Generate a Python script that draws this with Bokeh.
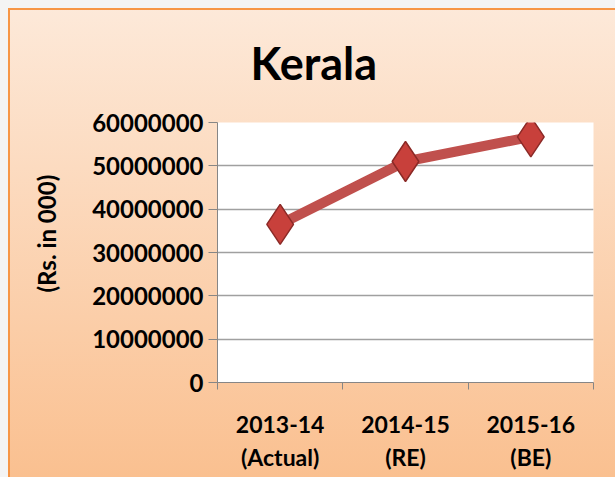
from bokeh.plotting import figure
from bokeh.models import FixedTicker, Range1d, Title
from bokeh.embed import file_html
from bokeh.resources import INLINE

chart_title = "Kerala"
y_label = "(Rs. in 000)"
categories = ["2013-14\n(Actual)", "2014-15\n(RE)", "2015-16\n(BE)"]
values = [36500000, 51000000, 56700000]
y_ticks = [0, 10000000, 20000000, 30000000, 40000000, 50000000, 60000000]

xs = [i + 0.5 for i in range(len(categories))]

FONT = "Lato"

p = figure(width=615, height=477, output_backend="svg", toolbar_location=None,
           x_range=Range1d(0, len(categories)), y_range=Range1d(0, 60000000),
           min_border_left=217, min_border_right=22, min_border_top=122, min_border_bottom=95)
p.border_fill_color = None
p.background_fill_color = "white"
p.outline_line_color = None
p.styles = {"background": ("linear-gradient(#f79646,#f79646) 8px 8px / 2px 469px no-repeat, "
                           "linear-gradient(#f79646,#f79646) 8px 8px / 607px 2px no-repeat, "
                           "linear-gradient(#fde9d9, #fac090) 8px 8px / 607px 469px no-repeat, "
                           "#f4f4f4")}

# axes
p.xaxis.ticker = FixedTicker(ticks=xs, minor_ticks=list(range(len(categories) + 1)))
p.xaxis.major_label_overrides = {x: c for x, c in zip(xs, categories)}
p.xaxis.major_tick_line_color = None
p.xaxis.minor_tick_in = 0
p.xaxis.minor_tick_out = 7
p.xaxis.minor_tick_line_color = "#868686"
p.xaxis.axis_line_color = "#868686"
p.xaxis.major_label_text_font = FONT
p.xaxis.major_label_text_font_style = "bold"
p.xaxis.major_label_text_font_size = "23px"
p.xaxis.major_label_text_color = "black"
p.xaxis.major_label_standoff = 20

p.yaxis.ticker = FixedTicker(ticks=y_ticks)
p.yaxis.major_label_overrides = {t: str(t) for t in y_ticks}
p.yaxis.minor_tick_line_color = None
p.yaxis.major_tick_in = 0
p.yaxis.major_tick_out = 9
p.yaxis.major_tick_line_color = "#868686"
p.yaxis.axis_line_color = "#868686"
p.yaxis.major_label_text_font = FONT
p.yaxis.major_label_text_font_style = "bold"
p.yaxis.major_label_text_font_size = "24px"
p.yaxis.major_label_text_color = "black"
p.yaxis.major_label_standoff = 5

p.xgrid.grid_line_color = None
p.ygrid.grid_line_color = "#a0a0a0"
p.ygrid.grid_line_width = 1.5

# data
p.line(xs, values, line_color="#c0504d", line_width=10)
p.scatter(xs, values, marker="diamond", size=40, fill_color="#c8403b",
          line_color="#8c2a27", line_width=1.5)

# titles
p.title.text = chart_title
p.title.align = "left"
p.title.offset = 33
p.title.standoff = 66
p.title.text_font = FONT
p.title.text_font_style = "bold"
p.title.text_font_size = "45px"
p.title.text_color = "black"

ylab = Title(text=y_label, align="left", offset=90, standoff=58,
             text_font=FONT, text_font_style="bold", text_font_size="24px",
             text_color="black")
p.add_layout(ylab, "left")

open("out.html", "w").write(file_html(p, INLINE))
